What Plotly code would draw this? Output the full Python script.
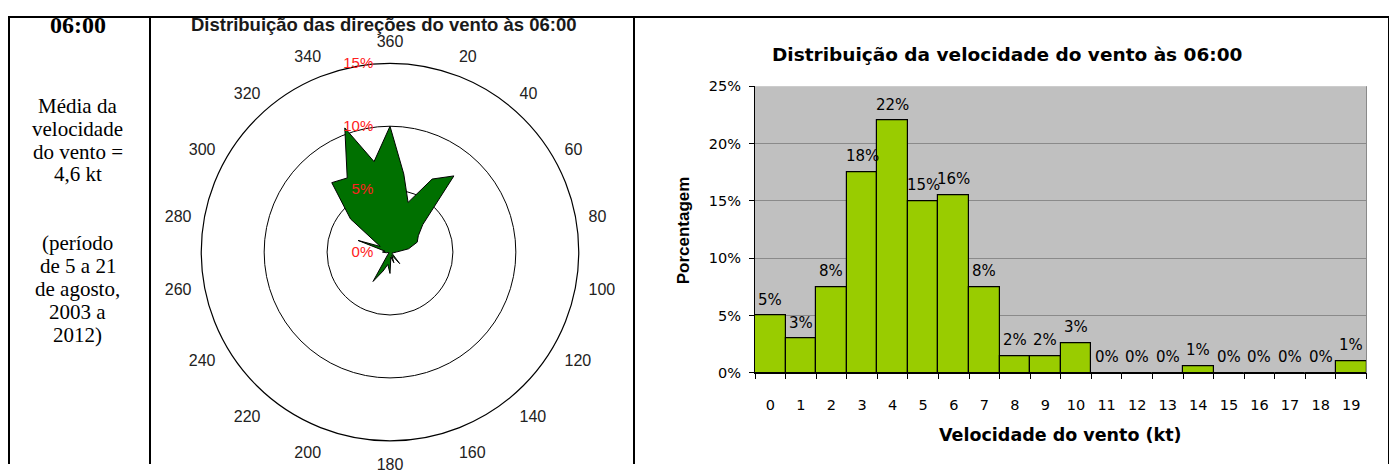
import plotly.graph_objects as go

# ---------------- data ----------------
directions = [0, 10, 20, 30, 40, 50, 60, 70, 80, 90, 100, 110, 120, 130, 140, 150, 160, 170,
              180, 190, 200, 210, 220, 230, 240, 250, 260, 270, 280, 290, 300, 310, 320, 330, 340, 350]
direction_freq = [10.0, 6.3, 4.2, 6.7, 7.9, 3.4, 2.6, 2.3, 1.5, 0.5, 0.3, 0.2, 0.2, 0.3, 1.2, 0.3, 0.9, 0.4,
                  1.7, 1.0, 1.6, 2.7, 0.3, 0.1, 0.1, 0.1, 0.3, 0.6, 0.4, 2.7, 0.9, 4.1, 7.2, 6.8, 10.5, 7.3]
angular_tickvals = list(range(0, 360, 20))
angular_ticktext = ["360", "20", "40", "60", "80", "100", "120", "140", "160", "180",
                    "200", "220", "240", "260", "280", "300", "320", "340"]
radial_tickvals = [0, 5, 10, 15]
radial_ticktext = ["0%", "5%", "10%", "15%"]

speed_categories = [str(i) for i in range(20)]
speed_pct = [5.0, 3.0, 7.5, 17.5, 22.0, 15.0, 15.5, 7.5, 1.5, 1.5, 2.6, 0, 0, 0, 0.6, 0, 0, 0, 0, 1.0]
speed_labels = ["5%", "3%", "8%", "18%", "22%", "15%", "16%", "8%", "2%", "2%", "3%",
                "0%", "0%", "0%", "1%", "0%", "0%", "0%", "0%", "1%"]
y_tickvals = [0, 5, 10, 15, 20, 25]
y_ticktext = ["0%", "5%", "10%", "15%", "20%", "25%"]

left_title = "06:00"
left_lines = ["Média da", "velocidade", "do vento =", "4,6 kt", "(período", "de 5 a 21",
              "de agosto,", "2003 a", "2012)"]
left_line_slot = [0, 1, 2, 3, 6, 7, 8, 9, 10]  # line slots; the gap holds the blank paragraph

# ---------------- page geometry ----------------
# the page body has an 8px margin, so the figure starts at screen (8, 8)
OFF = 8
W, H = 1397 - OFF, 472 - OFF
SANS = "Liberation Sans, Arial, sans-serif"
WIDE = "DejaVu Sans, Verdana, sans-serif"
SERIF = "Liberation Serif, Times New Roman, serif"


def px_x(x):
    return (x - OFF) / W


def px_y(y):
    return 1 - (y - OFF) / H


fig = go.Figure()

# ---------------- wind rose ----------------
fig.add_trace(go.Scatterpolar(
    r=direction_freq + direction_freq[:1],
    theta=directions + directions[:1],
    mode="lines",
    fill="toself",
    fillcolor="#007000",
    line=dict(color="black", width=1),
    hoverinfo="skip",
    showlegend=False,
))

cx, cy, R = 390, 252.5, 195.5
fig.update_layout(polar=dict(
    domain=dict(x=[px_x(cx - R), px_x(cx + R)], y=[px_y(cy + R), px_y(cy - R)]),
    bgcolor="white",
    radialaxis=dict(range=[0, 15], tickvals=radial_tickvals, ticktext=radial_ticktext,
                    angle=90, tickangle=90, side="counterclockwise",
                    showline=False, ticks="outside", ticklen=11, tickcolor="rgba(0,0,0,0)",
                    showgrid=True, gridcolor="black", gridwidth=1,
                    tickfont=dict(family=SANS, size=15, color="#ff2020"), layer="above traces"),
    angularaxis=dict(rotation=90, direction="clockwise", tickmode="array",
                     tickvals=angular_tickvals, ticktext=angular_ticktext,
                     showgrid=False, showline=True, linecolor="black", linewidth=1.2,
                     ticks="outside", ticklen=9, tickcolor="rgba(0,0,0,0)",
                     tickfont=dict(family=SANS, size=16, color="#222222")),
))

# ---------------- speed histogram ----------------
fig.add_trace(go.Bar(
    x=speed_categories, y=speed_pct,
    marker=dict(color="#99CC00", line=dict(color="black", width=1.2)),
    xaxis="x", yaxis="y", showlegend=False, hoverinfo="skip",
))

fig.update_layout(
    bargap=0,
    plot_bgcolor="#C0C0C0",
    xaxis=dict(domain=[px_x(755), px_x(1366.5)], type="category", tickson="boundaries",
               ticks="outside", ticklen=5, tickcolor="black", showline=True, linecolor="black",
               linewidth=1, showgrid=False, ticklabelstandoff=19,
               tickfont=dict(family=WIDE, size=14.5, color="black"),
               anchor="y", fixedrange=True),
    yaxis=dict(domain=[px_y(377.7), px_y(80.7)], range=[0, 25], tickvals=y_tickvals, ticktext=y_ticktext,
               ticks="outside", ticklen=5, tickcolor="black", showline=True, linecolor="black",
               linewidth=1, showgrid=True, gridcolor="#8a8a8a", gridwidth=1, zeroline=False,
               ticklabelstandoff=5,
               tickfont=dict(family=WIDE, size=14.5, color="black"), anchor="x", fixedrange=True),
)

annotations = []
for cat, val, lab in zip(speed_categories, speed_pct, speed_labels):
    annotations.append(dict(x=cat, y=val, xref="x", yref="y", text=lab, showarrow=False,
                            xanchor="center", yanchor="bottom", yshift=5,
                            font=dict(family=WIDE, size=15, color="black")))


def paper_text(x, y, text, font, angle=0):
    return dict(x=px_x(x), y=px_y(y), xref="paper", yref="paper", text=text, showarrow=False,
                xanchor="center", yanchor="middle", textangle=angle, font=font)


annotations += [
    paper_text(1007, 48, "<b>Distribuição da velocidade do vento às 06:00</b>",
               dict(family=WIDE, size=18.5, color="black")),
    paper_text(1060, 442, "<b>Velocidade do vento (kt)</b>",
               dict(family=WIDE, size=17.5, color="black")),
    paper_text(683, 230, "<b>Porcentagem</b>", dict(family=SANS, size=17, color="black"), angle=-90),
    paper_text(384, 17, "<b>Distribuição das direções do vento às 06:00</b>",
               dict(family=SANS, size=18.5, color="#1a1a1a")),
    paper_text(77.5, 17, "<b>" + left_title + "</b>", dict(family=SERIF, size=24, color="black")),
]
LINE0, STEP = 101, 23.7
for line, slot in zip(left_lines, left_line_slot):
    annotations.append(paper_text(77.5, LINE0 + STEP * slot, line,
                                  dict(family=SERIF, size=21, color="black")))

# table borders
shapes = []
for x in [150, 634, 1389]:
    shapes.append(dict(type="line", xref="paper", yref="paper", x0=px_x(x), x1=px_x(x), y0=0, y1=1,
                       line=dict(color="black", width=2)))
shapes.append(dict(type="line", xref="paper", yref="paper", x0=px_x(9), x1=px_x(9), y0=0, y1=1,
                   line=dict(color="black", width=2)))
shapes.append(dict(type="line", xref="paper", yref="paper", x0=px_x(8), x1=px_x(1390), y0=px_y(9), y1=px_y(9),
                   line=dict(color="black", width=2)))
# plot area right border (grey)
shapes.append(dict(type="line", xref="paper", yref="paper", x0=px_x(1366.5), x1=px_x(1366.5),
                   y0=px_y(377.7), y1=px_y(80.7), line=dict(color="#8a8a8a", width=1)))

fig.update_layout(
    width=W, height=H, margin=dict(l=0, r=0, t=0, b=0),
    paper_bgcolor="white", annotations=annotations, shapes=shapes,
    font=dict(family=SANS),
)

fig.write_html("out.html")
